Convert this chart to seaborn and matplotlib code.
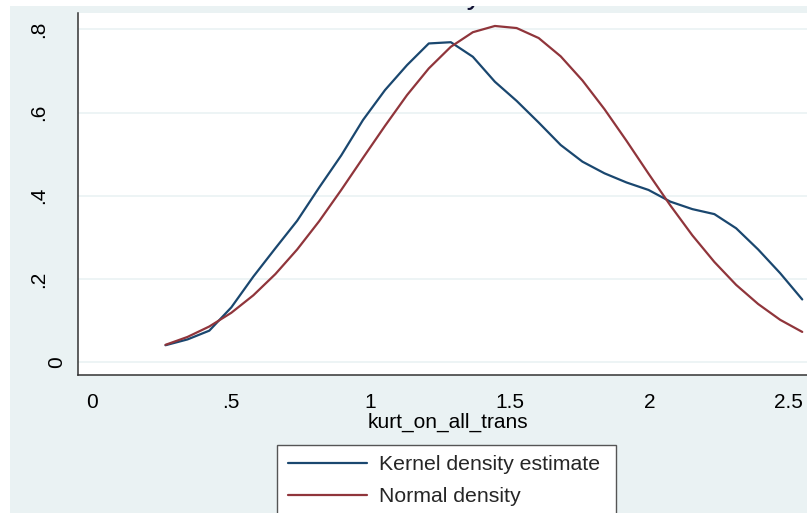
import matplotlib
matplotlib.use("Agg")
import matplotlib.pyplot as plt
from matplotlib.patches import Rectangle
from matplotlib.transforms import ScaledTranslation
import seaborn as sns
import pandas as pd

# ---------------- data ----------------
x_points = [0.265, 0.344, 0.422, 0.501, 0.580, 0.659, 0.737, 0.816, 0.895, 0.973,
            1.052, 1.131, 1.209, 1.288, 1.367, 1.446, 1.524, 1.603, 1.682, 1.760,
            1.839, 1.918, 1.997, 2.075, 2.154, 2.233, 2.311, 2.390, 2.469, 2.548]
kernel_density = [0.041, 0.055, 0.076, 0.132, 0.206, 0.274, 0.340, 0.420, 0.497, 0.582,
                  0.654, 0.714, 0.766, 0.769, 0.734, 0.674, 0.628, 0.576, 0.522, 0.482,
                  0.454, 0.432, 0.414, 0.386, 0.368, 0.356, 0.322, 0.271, 0.214, 0.151]
normal_density = [0.042, 0.061, 0.086, 0.119, 0.161, 0.212, 0.271, 0.339, 0.414, 0.491,
                  0.568, 0.642, 0.706, 0.758, 0.793, 0.808, 0.803, 0.779, 0.735, 0.677,
                  0.608, 0.532, 0.453, 0.377, 0.305, 0.241, 0.186, 0.140, 0.102, 0.073]
series_names = ["Kernel density estimate", "Normal density"]
x_ticks = [0, 0.5, 1, 1.5, 2, 2.5]
x_tick_labels = ["0", ".5", "1", "1.5", "2", "2.5"]
y_ticks = [0, 0.2, 0.4, 0.6, 0.8]
y_tick_labels = ["0", ".2", ".4", ".6", ".8"]
x_title = "kurt_on_all_trans"
chart_title = "Kernel density estimate"

# ---------------- style ----------------
BG = "#EAF2F3"
NAVY = "#1A476F"
MAROON = "#90353B"
AXC = "#333333"

sns.set_theme(style="white")
plt.rcParams['font.family'] = ['Liberation Sans', 'DejaVu Sans']

W, H = 807, 513
fig = plt.figure(figsize=(W / 100, H / 100), dpi=100, facecolor=BG)
# white outer margin strips (top and left); the top one covers the cropped title
fig.add_artist(Rectangle((0, 1 - 6 / H), 1, 6 / H, transform=fig.transFigure,
                         facecolor="white", edgecolor="none", zorder=10))
fig.add_artist(Rectangle((0, 0), 10 / W, 1, transform=fig.transFigure,
                         facecolor="white", edgecolor="none", zorder=0))

left, right, top, bottom = 78.3, 807, 13, 375
ax = fig.add_axes([left / W, 1 - bottom / H, (right - left) / W, (bottom - top) / H])
ax.set_facecolor("white")

df = pd.DataFrame({
    "x": x_points * 2,
    "density": kernel_density + normal_density,
    "series": [series_names[0]] * len(x_points) + [series_names[1]] * len(x_points),
})
sns.lineplot(data=df, x="x", y="density", hue="series", hue_order=series_names,
             palette=[NAVY, MAROON], linewidth=1.6, legend=False, ax=ax,
             sort=False, estimator=None)

# axes limits (pixel-derived)
x0_px, xscale = 91.6, 278.9
y0_px, yscale = 362.3, 416.25
ax.set_xlim((left - x0_px) / xscale, (right - x0_px) / xscale)
ax.set_ylim((y0_px - bottom) / yscale, (y0_px - top) / yscale)

ax.set_xticks(x_ticks, x_tick_labels)
ax.set_yticks(y_ticks, y_tick_labels)
ax.tick_params(axis="x", direction="out", length=6, width=1.0, color=AXC,
               labelsize=15, pad=6.8, labelcolor="black")
ax.tick_params(axis="y", direction="out", length=6.3, width=1.0, color=AXC,
               labelsize=15, pad=2.6, labelcolor="black")
for lab in ax.get_yticklabels():
    lab.set_rotation(90)
    lab.set_va("center")
    if lab.get_text() != "0":
        lab.set_transform(lab.get_transform() + ScaledTranslation(-18 / 100, 0, fig.dpi_scale_trans))

ax.yaxis.grid(True, color=BG, linewidth=1.2)
ax.xaxis.grid(False)
ax.set_axisbelow(True)
for s in ["top", "right"]:
    ax.spines[s].set_visible(False)
for s in ["left", "bottom"]:
    ax.spines[s].set_color(AXC)
    ax.spines[s].set_linewidth(1.1)

ax.set_ylabel("")
ax.set_xlabel(x_title, fontsize=15, color="black")
ax.xaxis.label.set_va("baseline")
ax.xaxis.set_label_coords((448 - left) / (right - left), (bottom - 428) / (bottom - top))

# title: mostly hidden behind the white top strip, only the tail of "y" shows
fig.text(447 / W, 1 - 2.6 / H, chart_title, ha="center", va="baseline",
         fontsize=22, color="#111133", zorder=3)

# legend: frame drawn as a box running past the bottom edge, entries on top
fig.add_artist(Rectangle((277 / W, -0.05), 339 / W, (1 - 444.5 / H) + 0.05,
                         transform=fig.transFigure, facecolor="white",
                         edgecolor="#555555", linewidth=1.0, zorder=4))
handles = ax.get_lines()[:2]
leg = fig.legend(handles, series_names, loc="upper left",
                 bbox_to_anchor=(277 / W, 1 - 444.5 / H, 339 / W, 0), mode="expand",
                 frameon=False, fontsize=15.3, handlelength=3.75, handletextpad=0.56,
                 borderpad=0.5, labelspacing=0.62, borderaxespad=0)
leg.set_zorder(5)

fig.savefig("out.png", dpi=100, facecolor=fig.get_facecolor())
